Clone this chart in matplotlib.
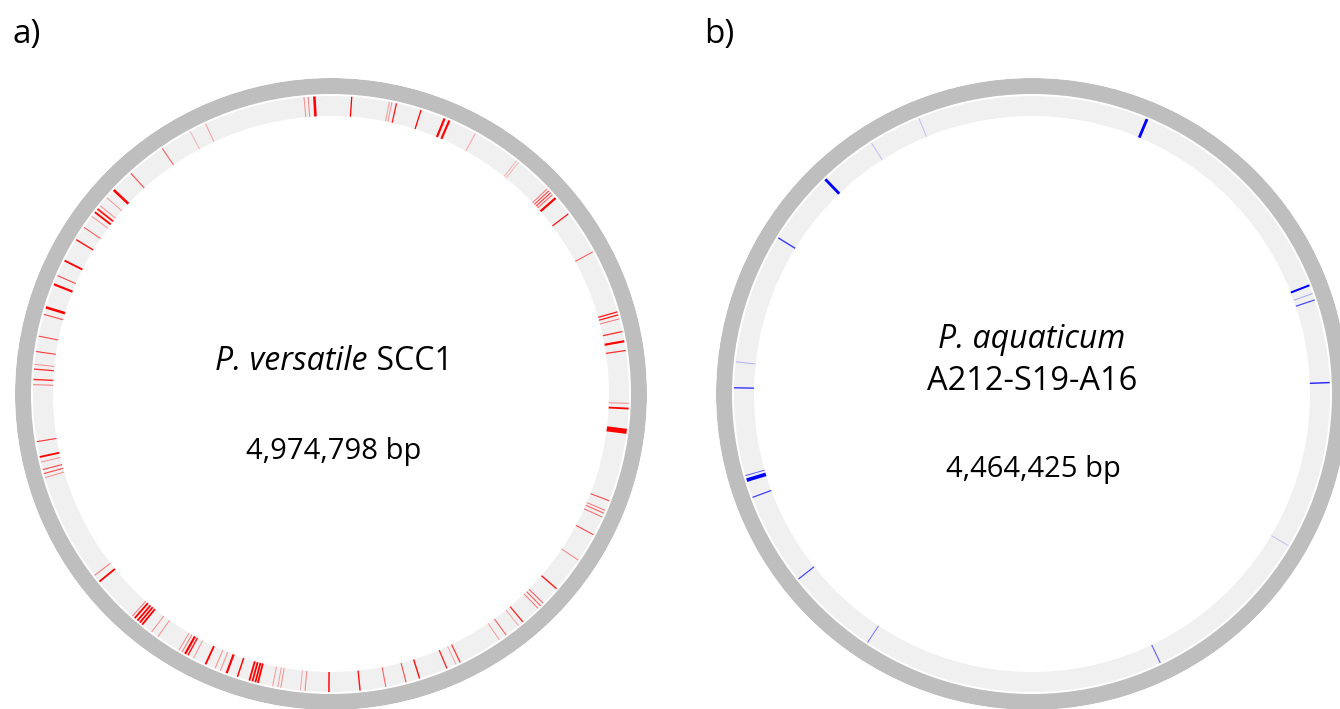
import numpy as np
import matplotlib.pyplot as plt
from matplotlib.colors import to_rgba

# a) P. versatile SCC1 -- feature positions (degrees clockwise from origin),
# feature length (kb) and score (0-1, drawn as colour strength)
a_species, a_strain = "P. versatile", "SCC1"
a_size = 4974798
a_pos = [4.0, 11.3, 11.8, 12.7, 17.6, 22.4, 23.4, 29.0, 38.5, 39.0,
         46.5, 47.0, 47.5, 48.0, 48.9, 52.8, 61.5, 74.0, 74.6, 75.4,
         77.9, 79.8, 81.6, 91.8, 92.8, 97.2, 111.0, 113.0, 113.6, 114.4,
         118.2, 123.9, 130.8, 134.6, 135.3, 136.0, 139.9, 141.0, 144.0, 145.6,
         154.3, 155.2, 157.1, 162.7, 165.4, 169.4, 174.4, 180.4, 185.0, 185.9,
         189.7, 190.3, 191.3, 194.2, 194.7, 195.3, 195.9, 198.3, 200.5, 201.8,
         202.9, 204.9, 207.5, 208.7, 209.3, 210.0, 210.7, 215.5, 217.0, 219.3,
         219.9, 220.5, 221.2, 221.8, 231.0, 232.5, 253.7, 254.5, 255.3, 256.8,
         257.8, 260.8, 271.8, 272.8, 274.8, 275.7, 278.2, 281.2, 285.5, 286.9,
         291.6, 293.4, 296.6, 301.2, 304.0, 306.6, 307.6, 308.4, 309.2, 311.2,
         313.2, 317.8, 325.5, 331.8, 335.1, 354.8, 355.6, 356.8]
a_len = [3.5, 2.8, 2.8, 3.5, 3.5, 6, 6, 2.8, 2.8, 2.8,
         2.8, 3, 3, 2.8, 6, 3.5, 3, 3.5, 3.5, 2.8,
         3.5, 6, 3.5, 2.8, 5, 14, 3, 2.8, 3, 2.8,
         3, 2.8, 4, 3, 3, 2.8, 3.5, 2.8, 3, 2.8,
         3.5, 2.8, 3.5, 4, 3, 3, 4, 4, 2.8, 2.8,
         2.8, 2.8, 2.8, 5, 5, 5, 5, 4, 6, 2.8,
         2.8, 5, 2.8, 4, 6, 2.8, 2.8, 2.8, 2.8, 5,
         5, 5, 5, 2.8, 5, 2.8, 2.8, 3, 3, 2.8,
         5, 3, 2.8, 4, 3.5, 2.8, 3, 3, 3, 7,
         6, 3, 5, 4, 3, 2.8, 5, 5, 2.8, 2.8,
         7, 3, 3, 2.8, 2.8, 2.8, 2.8, 7]
a_score = [1.0, 0.35, 0.4, 0.9, 1.0, 1.0, 1.0, 0.3, 0.25, 0.25,
           0.5, 0.7, 0.8, 0.6, 1.0, 0.9, 0.6, 0.9, 0.9, 0.5,
           0.8, 1.0, 0.8, 0.4, 1.0, 1.0, 0.7, 0.5, 0.6, 0.55,
           0.7, 0.45, 0.85, 0.6, 0.6, 0.5, 0.85, 0.3, 0.6, 0.35,
           0.75, 0.3, 0.85, 0.9, 0.7, 0.6, 0.9, 1.0, 0.45, 0.3,
           0.4, 0.35, 0.35, 1.0, 1.0, 1.0, 1.0, 1.0, 1.0, 0.4,
           0.4, 1.0, 0.35, 0.9, 1.0, 0.5, 0.4, 0.4, 0.4, 1.0,
           1.0, 1.0, 1.0, 0.5, 1.0, 0.5, 0.4, 0.7, 0.7, 0.4,
           1.0, 0.8, 0.5, 0.8, 0.8, 0.4, 0.75, 0.7, 0.7, 1.0,
           1.0, 0.7, 1.0, 0.9, 0.6, 0.35, 1.0, 0.9, 0.4, 0.35,
           1.0, 0.7, 0.6, 0.25, 0.35, 0.4, 0.45, 1.0]

# b) P. aquaticum A212-S19-A16
b_species, b_strain = "P. aquaticum", "A212-S19-A16"
b_size = 4464425
b_pos = [22.7, 68.6, 70.3, 71.6, 87.8, 120.6, 154.5, 213.5, 231.6, 249.7,
         253.2, 254.1, 271.2, 276.2, 301.6, 316.1, 327.4, 337.7]
b_len = [7, 5, 2.5, 3, 3.5, 2.5, 3, 2.5, 3, 3,
         9, 2.5, 3.5, 2.5, 3.5, 7, 2.5, 2.5]
b_score = [1.0, 1.0, 0.3, 0.7, 0.85, 0.2, 0.55, 0.5, 0.7, 0.75,
           1.0, 0.6, 0.75, 0.25, 0.75, 1.0, 0.2, 0.2]

plt.rcParams['font.family'] = 'Open Sans'

W, H = 1340, 709
R_OUT, R_GREY, R_TRACK_OUT, R_TRACK_IN = 316, 300, 298, 278

fig = plt.figure(figsize=(W / 100, H / 100), dpi=100)
bg = fig.add_axes([0, 0, 1, 1])
bg.set_xlim(0, W)
bg.set_ylim(H, 0)
bg.axis('off')


def genome_circle(cx, cy, pos, length, score, size, color):
    ax = fig.add_axes([(cx - R_OUT) / W, (H - cy - R_OUT) / H,
                       2 * R_OUT / W, 2 * R_OUT / H], projection='polar')
    ax.set_theta_zero_location('N')
    ax.set_theta_direction(-1)
    ax.set_ylim(0, R_OUT)
    ax.axis('off')
    ax.patch.set_alpha(0)
    ax.bar(0, R_OUT - R_GREY, width=2 * np.pi, bottom=R_GREY,
           color='#bebebe', linewidth=0)
    ax.bar(0, R_TRACK_OUT - R_TRACK_IN, width=2 * np.pi, bottom=R_TRACK_IN,
           color='#f0f0f0', linewidth=0)
    # feature width: length in bp -> pixels along the track -> points
    bp_per_px = size / (2 * np.pi * (R_TRACK_IN + R_TRACK_OUT) / 2)
    lw = np.array(length) * 1000 / bp_per_px * 0.72
    cols = [to_rgba(color, s) for s in score]
    ax.vlines(np.deg2rad(pos), R_TRACK_IN, R_TRACK_OUT, colors=cols,
              linewidths=lw)
    return ax


def centred_label(x, y, italic, roman, size):
    # italic species name followed by upright strain, centred as one line
    t1 = bg.text(x, y, italic, style='italic', fontsize=size,
                 ha='left', va='center')
    t2 = None
    if roman:
        t2 = bg.annotate(" " + roman, xy=(1, 0), xycoords=t1,
                         ha='left', va='bottom', fontsize=size)
    fig.canvas.draw()
    w = t1.get_window_extent().width
    if t2 is not None:
        w += t2.get_window_extent().width
    t1.set_x(x - w / 2)


genome_circle(331, 394, a_pos, a_len, a_score, a_size, '#ff0000')
genome_circle(1032, 394, b_pos, b_len, b_score, b_size, '#0000ff')

centred_label(334, 361, a_species, a_strain, 23)
bg.text(334, 452, f"{a_size:,} bp", ha='center', va='center', fontsize=21)
centred_label(1032, 339, b_species, None, 23)
bg.text(1032, 381, b_strain, ha='center', va='center', fontsize=23.5)
bg.text(1033, 470, f"{b_size:,} bp", ha='center', va='center', fontsize=21)
bg.text(12, 35, "a)", ha='left', va='center', fontsize=24)
bg.text(704, 35, "b)", ha='left', va='center', fontsize=24)

fig.savefig('out.png', dpi=100)
